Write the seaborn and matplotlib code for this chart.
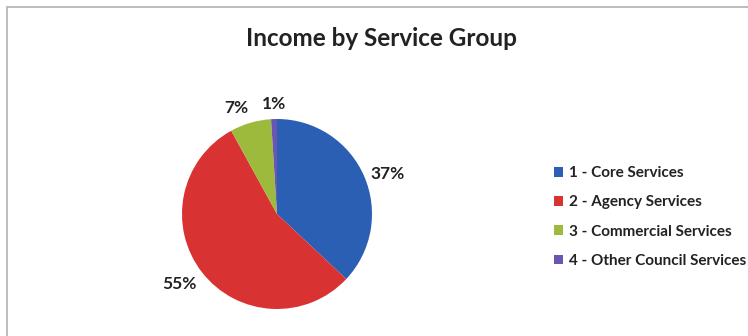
import matplotlib
matplotlib.use("Agg")
import matplotlib.pyplot as plt
from matplotlib.patches import Patch, Rectangle
import numpy as np
import seaborn as sns

# Income share by service group (percent)
groups = ["1 - Core Services", "2 - Agency Services",
          "3 - Commercial Services", "4 - Other Council Services"]
shares = [37, 55, 7, 1]
colors = ["#2b5fb4", "#d93232", "#9cbb3c", "#6a56b0"]

sns.set_theme(style="white")
plt.rcParams["font.family"] = ["Lato", "DejaVu Sans"]

fig = plt.figure(figsize=(7.48, 3.36), dpi=100)
fig.patch.set_facecolor("white")

# chart frame
fig.add_artist(Rectangle((7 / 748, -0.1), 1.2, 1 - 7 / 336 + 0.1,
                         transform=fig.transFigure, fill=False,
                         edgecolor="#b0b0b0", linewidth=1.2))

fig.text(0.51, 1 - 38 / 336, "Income by Service Group", ha="center",
         va="center", fontsize=17.5, fontweight="bold", color="#222222")

ax = fig.add_axes([182 / 748, 27 / 336, 190 / 748, 190 / 336])
wedges, _ = ax.pie(shares, colors=colors, startangle=90, counterclock=False,
                   radius=1, wedgeprops=dict(linewidth=0))

# percentage labels just outside each slice, aligned away from the pie
for w, v in zip(wedges, shares):
    ang = np.deg2rad((w.theta1 + w.theta2) / 2)
    cx, cy = np.cos(ang), np.sin(ang)
    ha = "left" if cx > 0.1 else ("right" if cx < -0.1 else "center")
    va = "bottom" if cy > 0.5 else ("top" if cy < -0.5 else "center")
    ax.text(1.07 * cx, 1.07 * cy, f"{v}%", ha=ha, va=va, fontsize=12.5,
            fontweight="bold", color="#222222", clip_on=False)

ax.set_xlim(-1, 1)
ax.set_ylim(-1, 1)
ax.set_aspect("equal")
ax.axis("off")

handles = [Patch(facecolor=c, edgecolor="none") for c in colors]
fig.legend(handles, groups, loc="center left",
           bbox_to_anchor=(540 / 748, 1 - 217 / 336), frameon=False,
           prop=dict(size=11, weight="bold"), handlelength=0.6,
           handleheight=0.6, handletextpad=0.4, labelspacing=1.0,
           labelcolor="#222222")

fig.savefig("out.png", dpi=100, facecolor="white")
